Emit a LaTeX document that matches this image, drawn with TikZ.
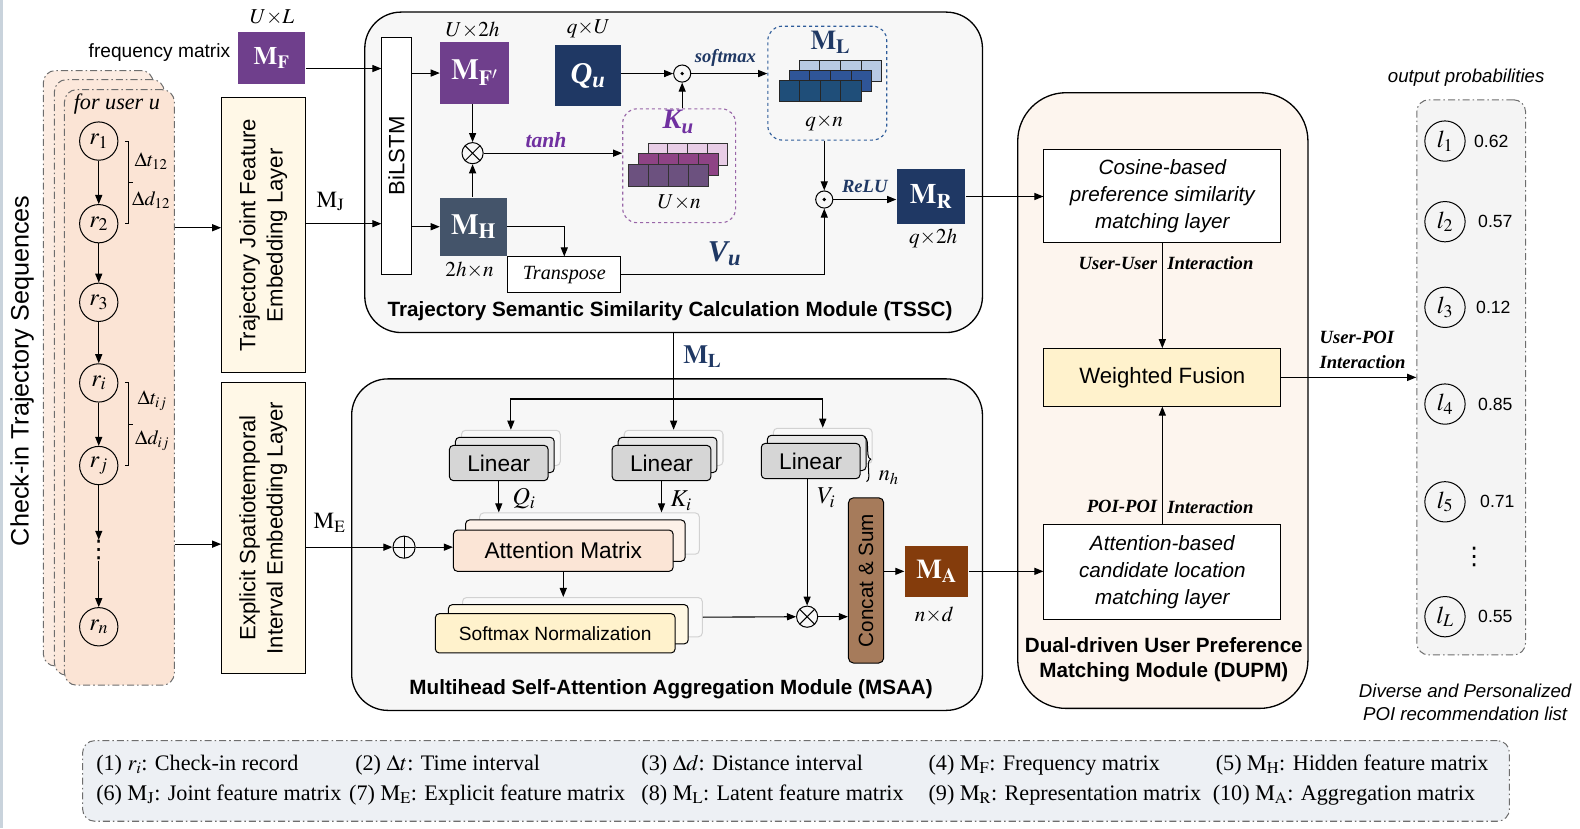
\documentclass[tikz,border=0pt]{standalone}
\usepackage{mathptmx}
\usepackage[no-math]{fontspec}
\setmainfont{Liberation Serif}
\setsansfont{Liberation Sans}
\newfontfamily\dotsfont{DejaVu Sans}
\usepackage{graphicx}
\usetikzlibrary{arrows.meta,decorations.pathreplacing}
\definecolor{seqPeach}{HTML}{FBE4D5}
\definecolor{layerCream}{HTML}{FFF8E7}
\definecolor{mfPurple}{HTML}{6F3F8C}
\definecolor{mhSlate}{HTML}{44546A}
\definecolor{quNavy}{HTML}{1F3864}
\definecolor{tanhPurple}{HTML}{7030A0}
\definecolor{kuDash}{HTML}{9966A8}
\definecolor{mlDash}{HTML}{2E5C9A}
\definecolor{kuFront}{HTML}{6C517F}
\definecolor{kuMid}{HTML}{8E4385}
\definecolor{kuBack}{HTML}{E8CDE6}
\definecolor{mlFront}{HTML}{1F4E79}
\definecolor{mlMid}{HTML}{2F5597}
\definecolor{mlBack}{HTML}{B8C9E3}
\definecolor{moduleGray}{HTML}{F7F7F7}
\definecolor{linGray}{HTML}{D6D6D6}
\definecolor{attPeach}{HTML}{FBE5D6}
\definecolor{softYellow}{HTML}{FFF2CC}
\definecolor{concatBrown}{HTML}{A67B5B}
\definecolor{maBrown}{HTML}{843C0C}
\definecolor{dupmPeach}{HTML}{FDF5EE}
\definecolor{listGray}{HTML}{F4F4F4}
\definecolor{legendGray}{HTML}{EDF0F4}
\definecolor{dashGray}{HTML}{6E6E6E}
\definecolor{edgeGray}{HTML}{C9D3DC}
\newcommand{\fsz}[2]{\fontsize{#1}{#2}\selectfont}

\begin{document}
\begin{tikzpicture}[x=1pt, y=-1pt, line width=1.1pt, >={Triangle[length=9pt,width=7pt]},
    box/.style={draw, line width=1pt, inner sep=0pt},
    mat/.style={inner sep=0pt, text=white},
    module/.style={draw, line width=1.3pt, fill=moduleGray, rounded corners=36pt, inner sep=0pt},
    dashdot/.style={draw=dashGray, line width=1pt, dash pattern=on 7pt off 3pt on 1.5pt off 3pt, rounded corners=12pt, inner sep=0pt},
    title/.style={font=\fsz{20.5}{25}\sffamily\bfseries, align=center, inner sep=0pt},
    dim/.style={font=\fsz{21}{25}, inner sep=0pt},
    lbl/.style={font=\fsz{18.5}{25}\bfseries\itshape, inner sep=0pt},
    vdot/.style={font=\fsz{24}{28}\dotsfont, inner sep=0pt},
    rec/.style={circle, draw, line width=1pt, minimum size=38pt, inner sep=0pt, font=\fsz{24}{28}},
    otimes/.style={circle, draw, line width=1pt, minimum size=21pt, inner sep=0pt,
      path picture={\draw[line width=1pt] (path picture bounding box.north west) -- (path picture bounding box.south east)
        (path picture bounding box.north east) -- (path picture bounding box.south west);}},
    oplus/.style={circle, draw, line width=1pt, minimum size=22pt, inner sep=0pt,
      path picture={\draw[line width=1pt] (path picture bounding box.north) -- (path picture bounding box.south)
        (path picture bounding box.east) -- (path picture bounding box.west);}},
    odot/.style={circle, draw, line width=1pt, minimum size=17pt, inner sep=0pt,
      path picture={\fill (path picture bounding box.center) circle (1.8pt);}}]
\useasboundingbox (0,0) rectangle (1568,822);
\draw[edgeGray, line width=3pt] (1.5,0) -- (1.5,822);

% check-in sequences
\node[dashdot, fill=seqPeach!70, minimum width=109, minimum height=591] (seq3) at (97.5,365.5) {};
\node[dashdot, fill=seqPeach!85, minimum width=109, minimum height=591] (seq2) at (108.5,374.5) {};
\node[dashdot, fill=seqPeach, minimum width=109, minimum height=591] (seq) at (118.5,384.5) {};
\node[font=\fsz{25}{30}\sffamily, rotate=90] (seqT) at (22,368) {Check-in Trajectory Sequences};
\node[font=\fsz{22}{26}\itshape] (user) at (116,103) {for user u};
\foreach \n/\y/\t in {r1/140/r_1, r2/222/r_2, r3/300/r_3, ri/380/r_i, rj/462/r_j, rn/622/r_n}
  \node[rec] (\n) at (98,\y) {$\t$};
\node[vdot] (rdots) at (98,546) {⋮};
\foreach \a/\b in {r1/r2, r2/r3, r3/ri, ri/rj, rj/rdots, rdots/rn}
  \draw[->] (\a) -- (\b);
\draw[line width=1pt] (124,140) -- (128,140) -- (128,222) -- (124,222) (128,181) -- (132,181);
\draw[line width=1pt] (124,380) -- (128,380) -- (128,462) -- (124,462) (128,421) -- (132,421);
\node[font=\fsz{20}{24}] (dt12) at (150,160) {$\Delta t_{12}$};
\node[font=\fsz{20}{24}] (dd12) at (150,199) {$\Delta d_{12}$};
\node[font=\fsz{20}{24}] (dtij) at (151,398) {$\Delta t_{ij}$};
\node[font=\fsz{20}{24}] (ddij) at (151,437) {$\Delta d_{ij}$};

% embedding layers
\node[box, fill=layerCream, minimum width=83, minimum height=273, font=\fsz{22}{27}\sffamily] (trj) at (261.5,233.5)
  {\rotatebox{90}{\begin{tabular}{@{}c@{}}Trajectory Joint Feature\\Embedding Layer\end{tabular}}};
\node[box, fill=layerCream, minimum width=83, minimum height=288, font=\fsz{22}{27}\sffamily] (exp) at (261.5,524)
  {\rotatebox{90}{\begin{tabular}{@{}c@{}}Explicit Spatiotemporal\\Interval Embedding Layer\end{tabular}}};
\draw[->] (seq.east |- 0,226) -- (trj.west |- 0,226);
\draw[->] (seq.east |- 0,540) -- (exp.west |- 0,540);

\node[mat, fill=mfPurple, minimum width=67, minimum height=51, font=\fsz{25}{28}] (MF) at (269.5,57.5) {$\mathbf{M_F}$};
\node[font=\fsz{19}{23}\sffamily, anchor=east, inner sep=0pt] (MFtxt) at (229,52) {frequency matrix};
\node[dim] (MFdim) at (270,17) {$U{\times}L$};

% TSSC
\node[module, minimum width=613, minimum height=318] (tssc) at (668.5,171) {};
\node[title] (tsscT) at (665,309) {Trajectory Semantic Similarity Calculation Module (TSSC)};
\node[box, fill=white, minimum width=29, minimum height=235, font=\fsz{22}{26}\sffamily] (bilstm) at (393.5,154.5) {\rotatebox{90}{BiLSTM}};
\node[font=\fsz{23}{27}] (MJ) at (328,200) {$\mathrm{M_J}$};
\draw[->] (trj.east |- 0,222) -- (bilstm.west |- 0,222);
\draw[->] (MF.east |- 0,68) -- (bilstm.west |- 0,68);

\node[mat, fill=mfPurple, minimum width=68, minimum height=61, font=\fsz{29}{32}] (MFp) at (471,72.5) {$\mathbf{M_{F'}}$};
\node[dim] (MFpdim) at (469,30) {$U{\times}2h$};
\node[mat, fill=mhSlate, minimum width=66, minimum height=58, font=\fsz{29}{32}] (MH) at (470,225) {$\mathbf{M_H}$};
\node[dim] (MHdim) at (466,268) {$2h{\times}n$};
\node[otimes] (ot1) at (469,152) {};
\draw[->] (bilstm.east |- MFp) -- (MFp);
\draw[->] (bilstm.east |- MH) -- (MH);
\draw[->] (ot1 |- MFp.south) -- (ot1);
\draw[->] (ot1 |- MH.north) -- (ot1);

\node[mat, fill=quNavy, minimum width=65, minimum height=60, font=\fsz{30}{34}] (Qu) at (583.5,75) {\textbf{\textit{Q}}\textsubscript{\textbf{\textit{u}}}};
\node[dim] (Qudim) at (584,29) {$q{\times}U$};
\node[odot] (od1) at (677,73) {};

\node[draw=kuDash, dashed, line width=1.1pt, rounded corners=14pt, minimum width=112, minimum height=113, inner sep=0pt] (ku) at (674,164.5) {};
\foreach \dx/\dy/\c in {19/-21/kuBack, 9.5/-10.5/kuMid, 0/0/kuFront}
  \foreach \i in {0,...,3}
    \draw[line width=0.8pt, draw=black!80, fill=\c] (624+\dx+\i*19.75,163+\dy) rectangle ++(19.75,22);
\node[font=\fsz{28}{32}\bfseries\itshape, text=tanhPurple, inner sep=0pt] (kuT) at (673,121) {K\textsubscript{u}};
\node[dim] (kudim) at (674,201) {$U{\times}n$};

\node[draw=mlDash, dashed, line width=1.1pt, rounded corners=14pt, minimum width=118, minimum height=113, inner sep=0pt] (ml) at (821,82.5) {};
\foreach \dx/\dy/\c in {20/-20/mlBack, 10/-10/mlMid, 0/0/mlFront}
  \foreach \i in {0,...,3}
    \draw[line width=0.8pt, draw=black!85, fill=\c] (773+\dx+\i*20.5,80+\dy) rectangle ++(20.5,21);
\node[font=\fsz{27}{30}, text=quNavy, inner sep=0pt] (mlT) at (824,42) {$\mathbf{M_L}$};
\node[dim] (mldim) at (818,122) {$q{\times}n$};

\node[odot] (od2) at (818,198) {};
\node[mat, fill=quNavy, minimum width=68, minimum height=54, font=\fsz{28}{32}] (MR) at (924,195) {$\mathbf{M_R}$};
\node[dim] (MRdim) at (926,237) {$q{\times}2h$};
\node[box, fill=white, minimum width=112, minimum height=35, font=\fsz{20}{24}\itshape] (trans) at (560,272.5) {Transpose};
\node[font=\fsz{30}{34}\bfseries\itshape, text=quNavy, inner sep=0pt] (Vu) at (719,252) {V\textsubscript{u}};

\draw[->] (ot1) -- node[lbl, font=\fsz{21.5}{25}\bfseries\itshape, text=tanhPurple, above=5pt, pos=0.45] (tanh) {tanh} (ot1 -| ku.west);
\draw[->] (Qu.east |- od1) -- (od1);
\draw[->] (od1 |- ku.north) -- (od1);
\draw[->] (od1) -- node[lbl, text=quNavy, above=6pt, pos=0.45] (smx) {softmax} (od1 -| ml.west);
\draw[->] (od2 |- ml.south) -- (od2);
\draw[->] (od2) -- node[lbl, text=quNavy, above=6pt] (relu) {ReLU} (od2 -| MR.west);
\draw[->] (MH.east) -| (trans.north);
\draw[->] (trans.east) -| (od2);

% MSAA
\node[module, minimum width=626, minimum height=329] (msaa) at (662,540.5) {};
\node[title] (msaaT) at (666,684) {Multihead Self-Attention Aggregation Module (MSAA)};
\node[font=\fsz{26}{30}, text=quNavy, inner sep=0pt] (mlL) at (697,354) {$\mathbf{M_L}$};

\foreach \n/\x/\y in {linq/495/459.5, link/656.5/459.5, linv/804.5/457.5} {
  \node[box, draw=gray!35, fill=gray!5, rounded corners=4pt, minimum width=98, minimum height=35] (\n3) at (\x+12,\y-15) {};
  \node[box, fill=linGray!60, rounded corners=4pt, minimum width=98, minimum height=35] (\n2) at (\x+6,\y-8) {};
  \node[box, fill=linGray, rounded corners=4pt, minimum width=98, minimum height=35, font=\fsz{22.5}{26}\sffamily] (\n) at (\x,\y) {Linear};
}
\draw[line width=1pt, decorate, decoration={brace, amplitude=5pt}] (858,434) -- (860,478);
\node[font=\fsz{22}{26}, inner sep=0pt] (nh) at (882,474) {$n_h$};

\draw[->] (tssc.south) -- (tssc.south |- link3.north);
\draw[->] (tssc.south |- 0,396) -| (linq3.north);
\draw[->] (tssc.south |- 0,396) -| (linv3.north);

\node[box, draw=gray!35, fill=gray!5, rounded corners=4pt, minimum width=218, minimum height=41] (att3) at (585,529.5) {};
\node[box, fill=attPeach!55, rounded corners=4pt, minimum width=218, minimum height=41] (att2) at (571,536.5) {};
\node[box, fill=attPeach, rounded corners=4pt, minimum width=218, minimum height=41, font=\fsz{22.5}{26}\sffamily] (att) at (559,546.5) {Attention Matrix};
\node[box, draw=gray!35, fill=gray!5, rounded corners=4pt, minimum width=238, minimum height=39] (soft3) at (578,612.5) {};
\node[box, fill=softYellow!55, rounded corners=4pt, minimum width=238, minimum height=39] (soft2) at (564,619.5) {};
\node[box, fill=softYellow, rounded corners=4pt, minimum width=238, minimum height=39, font=\fsz{19}{23}\sffamily] (soft) at (551,628.5) {Softmax Normalization};

\node[oplus] (opl) at (401,543) {};
\node[otimes] (ot2) at (801,612) {};
\node[box, fill=concatBrown, rounded corners=5pt, minimum width=35, minimum height=164, font=\fsz{20.5}{24}\sffamily] (concat) at (859.5,576) {\rotatebox{90}{Concat \& Sum}};
\node[mat, fill=maBrown, minimum width=63, minimum height=50, font=\fsz{27}{30}] (MA) at (929.5,567) {$\mathbf{M_A}$};
\node[dim] (MAdim) at (927,610) {$n{\times}d$};

\draw[->] (linq.south) -- (linq.south |- att3.north);
\node[font=\fsz{24}{28}, inner sep=0pt] (Qi) at (520,495) {$Q_i$};
\draw[->] (link.south) -- (link.south |- att3.north);
\node[font=\fsz{24}{28}, inner sep=0pt] (Ki) at (676,497) {$K_i$};
\draw[->] (ot2 |- linv.south) -- (ot2);
\node[font=\fsz{24}{28}, inner sep=0pt] (Vi) at (820,494) {$V_i$};
\draw[->] (exp.east |- opl) -- (opl);
\node[font=\fsz{23}{27}] (ME) at (327,519) {$\mathrm{M_E}$};
\draw[->] (opl) -- (opl -| att.west);
\draw[->] (att.south) -- (att.south |- soft3.north);
\draw[->] (soft3.east) -- (ot2);
\draw[->] (ot2) -- (ot2 -| concat.west);
\draw[->] (concat.east |- MA) -- (MA);

% DUPM
\node[module, fill=dupmPeach, rounded corners=48pt, minimum width=288, minimum height=611] (dupm) at (1154,397.5) {};
\node[title] (dupmT) at (1155,655) {Dual-driven User Preference\\Matching Module (DUPM)};
\node[box, fill=white, minimum width=235, minimum height=93, align=center, font=\fsz{20.5}{26.5}\sffamily\itshape] (cos) at (1153.5,194.5) {Cosine-based\\preference similarity\\matching layer};
\node[box, fill=softYellow, minimum width=235, minimum height=57, font=\fsz{22}{26}\sffamily] (wf) at (1153.5,374.5) {Weighted Fusion};
\node[box, fill=white, minimum width=235, minimum height=94, align=center, font=\fsz{20.5}{26.5}\sffamily\itshape] (attb) at (1153.5,568) {Attention-based\\candidate location\\matching layer};
\draw[->] (cos) -- (wf);
\draw[->] (attb) -- (wf);
\node[lbl, anchor=east] (uu) at (1149,261) {User-User};
\node[lbl, anchor=west] (uuI) at (1158,261) {Interaction};
\node[lbl, anchor=east] (pp) at (1149,503) {POI-POI};
\node[lbl, anchor=west] (ppI) at (1158,503) {Interaction};
\draw[->] (MR) -- (MR -| cos.west);
\draw[->] (MA) -- (MA -| attb.west);

% output list
\node[dashdot, fill=listGray, minimum width=108, minimum height=551] (list) at (1460,374.5) {};
\node[font=\fsz{18.5}{22}\sffamily\itshape] (outT) at (1455,77) {output probabilities};
\foreach \n/\y/\s/\v/\vx in {l1/140/1/0.62/1480, l2/220/2/0.57/1484, l3/305/3/0.12/1482, l4/401/4/0.85/1484, l5/498/5/0.71/1486, lL/612/L/0.55/1484} {
  \node[rec, minimum size=40pt] (\n) at (1434,\y) {$l_{\s}$};
  \node[font=\fsz{17.5}{21}\sffamily] (v\n) at (\vx,\y) {\v};
}
\node[vdot] (ldots) at (1463,553) {⋮};
\draw[->] (wf) -- (wf -| list.west);
\node[lbl, anchor=west, align=left] (upI) at (1309,347) {User-POI\\Interaction};
\node[font=\fsz{18.5}{22.5}\sffamily\itshape, align=center] (divT) at (1454,697) {Diverse and Personalized\\POI recommendation list};

% legend
\node[dashdot, fill=legendGray, minimum width=1416, minimum height=80] (legend) at (790,775) {};
\foreach \n/\x/\y/\t in {
    lg1/95/759/{(1) $r_i$: Check-in record},
    lg2/352/759/{(2) $\Delta t$: Time interval},
    lg3/636/759/{(3) $\Delta d$: Distance interval},
    lg4/921/759/{(4) $\mathrm{M_F}$: Frequency matrix},
    lg5/1206/759/{(5) $\mathrm{M_H}$: Hidden feature matrix},
    lg6/95/789/{(6) $\mathrm{M_J}$: Joint feature matrix},
    lg7/346/789/{(7) $\mathrm{M_E}$: Explicit feature matrix},
    lg8/636/789/{(8) $\mathrm{M_L}$: Latent feature matrix},
    lg9/921/789/{(9) $\mathrm{M_R}$: Representation matrix},
    lg10/1203/789/{(10) $\mathrm{M_A}$: Aggregation matrix}}
  \node[font=\fsz{22}{26}, anchor=west, inner sep=0pt] (\n) at (\x,\y) {\t};
\end{tikzpicture}
\end{document}
